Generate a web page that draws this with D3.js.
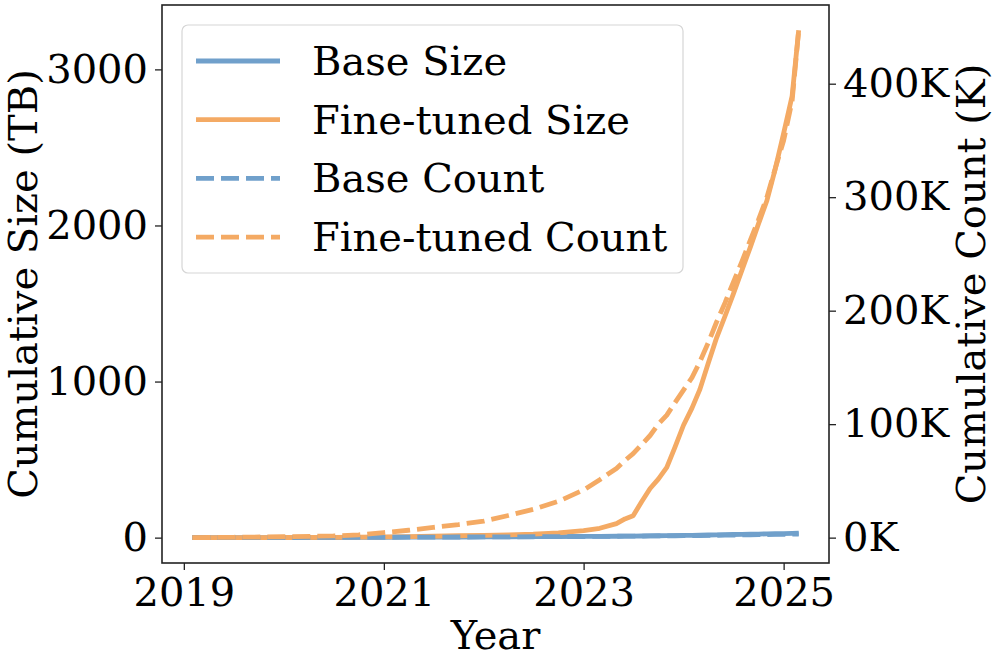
<!DOCTYPE html>
<html>
<head>
<meta charset="utf-8">
<script src="https://cdn.jsdelivr.net/npm/d3@7"></script>
<style>
  body { margin: 0; background: #fff; }
  text { font-family: "DejaVu Serif", serif; fill: #000; }
</style>
</head>
<body>
<svg width="996" height="663"></svg>
<script>
// data (dates, TB for size, thousands for count)
var dates = ['2019-02-01','2019-07-01','2020-01-01','2020-07-01','2020-10-01','2021-01-01','2021-04-01',
  '2021-07-01','2021-10-01','2022-01-01','2022-04-01','2022-07-01','2022-10-01','2023-01-01','2023-03-01',
  '2023-05-01','2023-06-01','2023-07-01','2023-08-01','2023-09-01','2023-10-01','2023-11-01','2023-12-01',
  '2024-01-01','2024-02-01','2024-03-01','2024-04-01','2024-05-01','2024-06-01','2024-07-01','2024-08-01',
  '2024-09-01','2024-10-01','2024-11-01','2024-12-01','2025-01-01','2025-02-01','2025-02-25'];
var fineSize = [0,0,1,2,3,5,7,9,12,15,18,22,30,45,60,90,120,140,230,315,375,450,580,
  720,830,950,1120,1280,1420,1560,1710,1860,2010,2160,2360,2590,2830,3250];
var baseSize = [0,0,0.5,1,1.5,2,3,3.5,4,5,5.5,6,7,8,8.5,9,9.5,10,10.5,11,12,12.5,13,
  14,15,16,17,18,19,20,21,22,23,24,25,26,27,28];
var fineCount = [0,0.3,0.8,1.5,2.5,4.5,6.5,9,11.5,14.5,19.5,25,32,42,51,61,68,74,82,90,100,108,119,
  130,141,155,172,190,207,225,243,262,280,300,325,350,385,447];
var baseCount = [0,0,0.1,0.2,0.25,0.3,0.4,0.5,0.55,0.6,0.7,0.8,0.9,1.0,1.1,1.2,1.25,1.3,1.4,1.5,1.55,1.6,1.65,
  1.7,1.8,1.9,2.0,2.1,2.2,2.3,2.4,2.5,2.6,2.7,2.8,2.9,3.0,3.2];
var xTicks = ['2019','2021','2023','2025'];
var leftTicks = [0,1000,2000,3000];
var rightTicks = [0,100,200,300,400];
var labels = ['Base Size','Fine-tuned Size','Base Count','Fine-tuned Count'];

var blue = '#70a0cb', orange = '#f4aa64';
var parse = d3.timeParse('%Y-%m-%d');
var days = dates.map(parse);

var L = 162, R = 829, T = 5, B = 563;
var svg = d3.select('svg');

// matplotlib style 5% margins
function pad(lo, hi) { var m = (hi - lo) * 0.05; return [lo - m, hi + m]; }
var xd = pad(+days[0], +days[days.length - 1]);
var x = d3.scaleTime().domain([new Date(xd[0]), new Date(xd[1])]).range([L, R]);
var yL = d3.scaleLinear().domain(pad(0, d3.max(fineSize))).range([B, T]);
var yR = d3.scaleLinear().domain(pad(0, d3.max(fineCount))).range([B, T]);

var plot = svg.append('g');
plot.append('clipPath').attr('id', 'clip').append('rect')
    .attr('x', L).attr('y', T).attr('width', R - L).attr('height', B - T);

var lw = 4.8, dash = '18,7';
function drawLine(vals, scale, color, dashed) {
    var line = d3.line().x(function(d, i){ return x(days[i]); }).y(function(d){ return scale(d); });
    plot.append('path')
        .datum(vals)
        .attr('clip-path', 'url(#clip)')
        .attr('d', line)
        .attr('fill', 'none')
        .attr('stroke', color)
        .attr('stroke-width', lw)
        .attr('stroke-linejoin', 'round')
        .attr('stroke-dasharray', dashed ? dash : null);
}
drawLine(baseSize, yL, blue, false);
drawLine(fineSize, yL, orange, false);
drawLine(baseCount, yR, blue, true);
drawLine(fineCount, yR, orange, true);

// axes
var fs = 40;
var xAxis = svg.append('g').attr('transform', 'translate(0,' + B + ')')
    .call(d3.axisBottom(x).tickValues(xTicks.map(function(t){ return parse(t + '-01-01'); }))
        .tickFormat(d3.timeFormat('%Y')).tickSize(7).tickPadding(8));
var yAxisL = svg.append('g').attr('transform', 'translate(' + L + ',0)')
    .call(d3.axisLeft(yL).tickValues(leftTicks).tickFormat(d3.format('d')).tickSize(7).tickPadding(7));
var yAxisR = svg.append('g').attr('transform', 'translate(' + R + ',0)')
    .call(d3.axisRight(yR).tickValues(rightTicks).tickFormat(function(d){ return d + 'K'; })
        .tickSize(7).tickPadding(7));
[xAxis, yAxisL, yAxisR].forEach(function(a){
    a.select('.domain').remove();
    a.selectAll('line').attr('stroke', '#222').attr('stroke-width', 1.3);
    a.selectAll('text').attr('font-size', fs).attr('font-family', 'DejaVu Serif');
});

svg.append('rect').attr('x', L).attr('y', T).attr('width', R - L).attr('height', B - T)
    .attr('fill', 'none').attr('stroke', '#222').attr('stroke-width', 1.6);

// axis titles
svg.append('text').attr('x', (L + R) / 2).attr('y', 649).attr('text-anchor', 'middle')
    .attr('font-size', fs).text('Year');
svg.append('text').attr('transform', 'translate(37,' + (T + B) / 2 + ') rotate(-90)')
    .attr('text-anchor', 'middle').attr('font-size', fs).text('Cumulative Size (TB)');
svg.append('text').attr('transform', 'translate(985,' + (T + B) / 2 + ') rotate(-90)')
    .attr('text-anchor', 'middle').attr('font-size', fs).text('Cumulative Count (K)');

// legend
var lg = svg.append('g');
lg.append('rect').attr('x', 182).attr('y', 25).attr('width', 501).attr('height', 248)
    .attr('rx', 6).attr('fill', '#fff').attr('fill-opacity', 0.8)
    .attr('stroke', '#d6d6d6').attr('stroke-width', 1.2);
var styles = [[blue, false], [orange, false], [blue, true], [orange, true]];
labels.forEach(function(t, i){
    var cy = 61 + i * 58.7;
    lg.append('line').attr('x1', 196).attr('x2', 280).attr('y1', cy).attr('y2', cy)
        .attr('stroke', styles[i][0]).attr('stroke-width', lw)
        .attr('stroke-dasharray', styles[i][1] ? dash : null);
    lg.append('text').attr('x', 312).attr('y', cy).attr('dy', '0.35em')
        .attr('font-size', fs).text(t);
});
</script>
</body>
</html>
